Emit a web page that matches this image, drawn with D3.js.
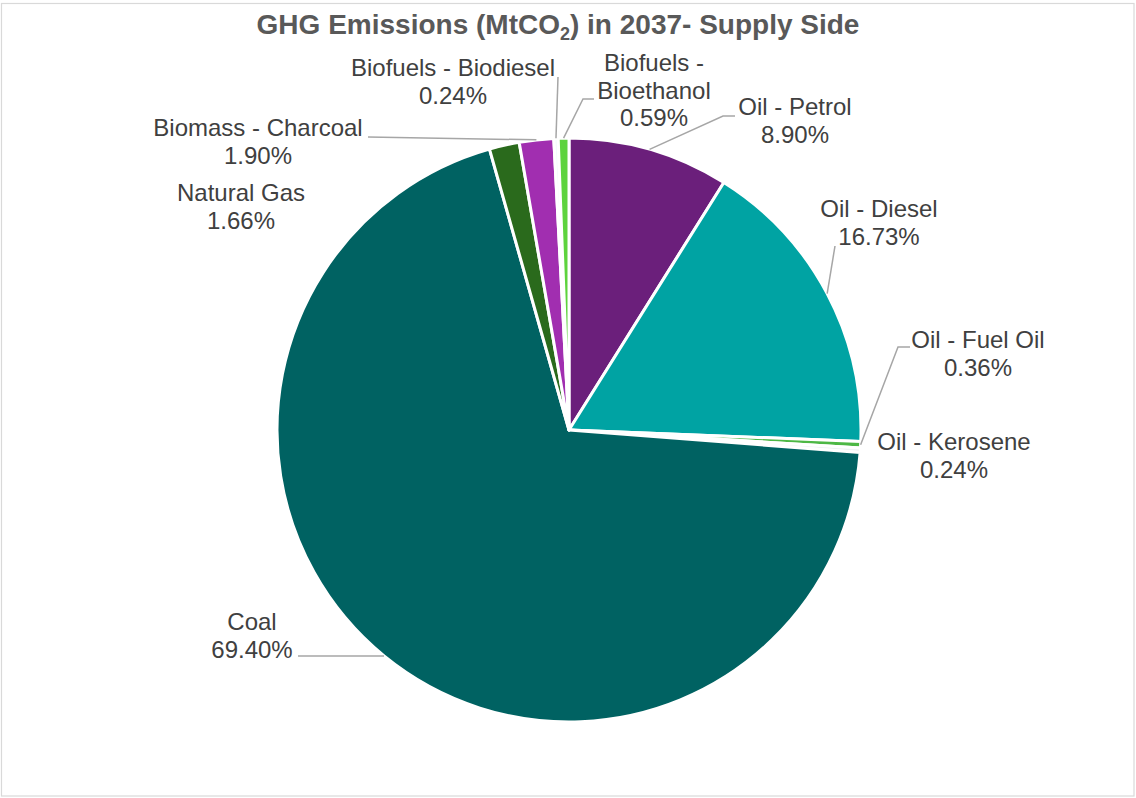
<!DOCTYPE html>
<html>
<head>
<meta charset="utf-8">
<script src="https://cdn.jsdelivr.net/npm/d3@7/dist/d3.min.js"></script>
<style>
  html, body { margin: 0; padding: 0; background: #ffffff; }
  svg { display: block; }
</style>
</head>
<body>
<svg id="chart" width="1136" height="798"></svg>
<script>
// ---- data ----
const categories = ["Oil - Petrol", "Oil - Diesel", "Oil - Fuel Oil", "Oil - Kerosene", "Coal",
  "Natural Gas", "Biomass - Charcoal", "Biofuels - Biodiesel", "Biofuels - Bioethanol"];
const shares = [8.90, 16.73, 0.36, 0.24, 69.40, 1.66, 1.90, 0.24, 0.59];
const labelText = ["8.90%", "16.73%", "0.36%", "0.24%", "69.40%", "1.66%", "1.90%", "0.24%", "0.59%"];
const colors = ["#6B1F7B", "#00A3A3", "#4DB845", "#EEF3F3", "#006262",
  "#2A6A1C", "#A12EB0", "#F4FAFD", "#5DD33D"];

// ---- layout (label placement, not data) ----
const labelLines = [
  ["Oil - Petrol"], ["Oil - Diesel"], ["Oil - Fuel Oil"], ["Oil - Kerosene"], ["Coal"],
  ["Natural Gas"], ["Biomass - Charcoal"], ["Biofuels - Biodiesel"], ["Biofuels -", "Bioethanol"]
];
const labelPos = [
  {x: 795, y: 115, leader: [[723, 116], [735, 116]]},
  {x: 879, y: 217, leader: [[835, 246]]},
  {x: 978, y: 348, leader: [[898, 347], [910, 347]]},
  {x: 954, y: 450, leader: null},
  {x: 252, y: 630, leader: [[298, 657]]},
  {x: 241, y: 201, leader: null},
  {x: 258, y: 136, leader: [[368, 137]]},
  {x: 453, y: 76, leader: [[558, 77]]},
  {x: 654, y: 71, leader: [[583, 99], [594, 99]]}
];

const W = 1136, H = 798;
const cx = 569, cy = 430, R = 292;
const svg = d3.select("#chart");

// border
svg.append("rect").attr("x", 1.5).attr("y", 3.5).attr("width", 1132.5).attr("height", 792.5)
  .attr("fill", "#fff").attr("stroke", "#D9D9D9").attr("stroke-width", 1.2);

// title
const title = svg.append("text").attr("x", 558).attr("y", 34).attr("text-anchor", "middle")
  .attr("font-family", "Liberation Sans, Arial, sans-serif").attr("font-weight", "bold")
  .attr("font-size", 28).attr("fill", "#595959");
title.append("tspan").text("GHG Emissions (MtCO");
title.append("tspan").attr("font-size", 18).attr("dy", 6).text("2");
title.append("tspan").attr("dy", -6).text(") in 2037- Supply Side");

const data = categories.map((c, i) => ({cat: c, value: shares[i], i}));
const pie = d3.pie().sort(null).value(d => d.value);
const arcs = pie(data);
const arc = d3.arc().innerRadius(0).outerRadius(R);

const g = svg.append("g").attr("transform", `translate(${cx},${cy})`);
g.selectAll("path").data(arcs).join("path")
  .attr("d", arc)
  .attr("fill", d => colors[d.data.i])
  .attr("stroke", "#ffffff").attr("stroke-width", 3).attr("stroke-linejoin", "round");

// leader lines
arcs.forEach(a => {
  const lp = labelPos[a.data.i];
  if (!lp.leader) return;
  const mid = (a.startAngle + a.endAngle) / 2;
  const sx = cx + R * Math.sin(mid), sy = cy - R * Math.cos(mid);
  let pts = [[sx, sy]].concat(lp.leader);
  if (a.data.i === 4) pts = [[sx, sy], [lp.leader[0][0], sy]];
  svg.append("path").attr("d", d3.line()(pts)).attr("fill", "none")
    .attr("stroke", "#A6A6A6").attr("stroke-width", 1.5);
});

// labels
const fontSize = 24, lh = 27.5;
arcs.forEach(a => {
  const i = a.data.i, lp = labelPos[i];
  const lines = labelLines[i].concat([labelText[i]]);
  const t = svg.append("text").attr("text-anchor", "middle")
    .attr("font-family", "Liberation Sans, Arial, sans-serif")
    .attr("font-size", fontSize).attr("fill", "#404040");
  lines.forEach((l, k) => {
    t.append("tspan").attr("x", lp.x).attr("y", lp.y + k * lh).text(l);
  });
});
</script>
</body>
</html>
